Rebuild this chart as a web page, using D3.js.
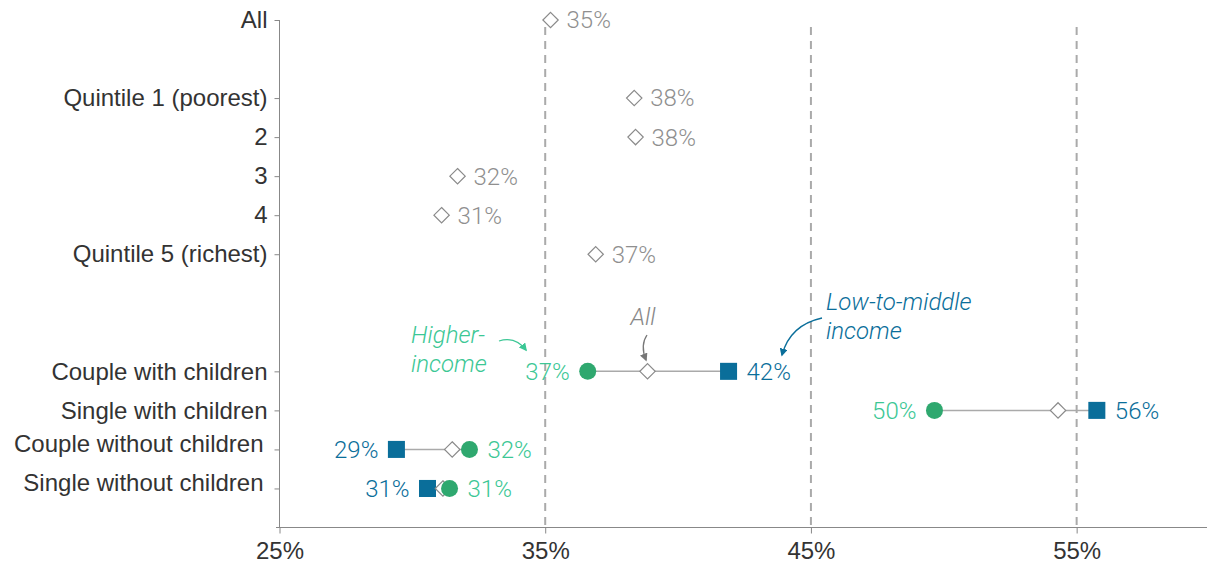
<!DOCTYPE html>
<html>
<head>
<meta charset="utf-8">
<script src="https://cdn.jsdelivr.net/npm/d3@7"></script>
<style>
  html, body { margin: 0; padding: 0; background: #fff; }
  svg { display: block; font-family: Roboto, "Noto Sans", sans-serif; font-weight: 300; }
</style>
</head>
<body>
<svg id="chart" width="1207" height="568"></svg>
<script>
// Row slots on the vertical axis; "gap" keys are empty spacer rows.
const categories = [
  "All", "gap-1",
  "Quintile 1 (poorest)", "2", "3", "4", "Quintile 5 (richest)",
  "gap-2", "gap-3",
  "Couple with children", "Single with children",
  "Couple without children", "Single without children",
  "base"
];

// Share by income quintile (diamonds only)
const quintileRows = ["All", "Quintile 1 (poorest)", "2", "3", "4", "Quintile 5 (richest)"];
const quintileValues = [0.352, 0.3835, 0.384, 0.317, 0.311, 0.369];

// Share by family type, split by income group
const familyRows = ["Couple with children", "Single with children", "Couple without children", "Single without children"];
const higherIncome = [0.366, 0.4965, 0.3215, 0.314];
const lowMiddleIncome = [0.419, 0.5576, 0.294, 0.3057];
const allIncomes = [0.3885, 0.543, 0.315, 0.3115];

const xTicks = [0.25, 0.35, 0.45, 0.55];
const refLines = [0.35, 0.45, 0.55];

const GREEN = "#2fa86f", GREEN_TEXT = "#3cc795", BLUE = "#0a6e9a";
const GREY = "#8a8a8a", GREY_TEXT = "#8f8f8f", AXIS = "#888", TEXT = "#333";
const FS = 24;

const svg = d3.select("#chart");
const x = d3.scaleLinear().domain([0.25, 0.6]).range([279.5, 1209.5]);
const y = d3.scalePoint().domain(categories).range([20, 527.5]);
const fmt = d3.format(".0%");

// Dashed reference lines
svg.append("g").selectAll("line").data(refLines).join("line")
  .attr("x1", d => x(d)).attr("x2", d => x(d))
  .attr("y1", 27).attr("y2", y("base"))
  .attr("stroke", "#aaa").attr("stroke-width", 2)
  .attr("stroke-dasharray", "8,6");

// X axis
const xAxis = svg.append("g")
  .attr("transform", `translate(0,${y("base")})`)
  .call(d3.axisBottom(x).tickValues(xTicks).tickFormat(fmt).tickSize(6).tickSizeOuter(0));
xAxis.select(".domain").attr("stroke", AXIS).attr("d", `M276,0H1207`);
xAxis.selectAll(".tick line").attr("stroke", AXIS);
xAxis.selectAll(".tick text").attr("fill", TEXT).attr("font-size", FS)
  .attr("font-family", null).attr("dy", "0.95em");

// Y axis
const labelled = categories.filter(c => !c.startsWith("gap") && c !== "base");
const yAxis = svg.append("g")
  .attr("transform", `translate(${x(0.25)},0)`)
  .call(d3.axisLeft(y).tickValues(labelled).tickSize(5).tickSizeOuter(0));
yAxis.select(".domain").attr("stroke", AXIS).attr("d", `M0,${y("All")}V${y("base")}`);
yAxis.selectAll(".tick line").attr("stroke", AXIS);
yAxis.selectAll(".tick text").attr("fill", TEXT).attr("font-size", FS).attr("x", -12)
  .attr("dy", d => d.includes("without") ? "0.1em" : "0.32em")
  .attr("dx", d => d.includes("without") ? -4 : 0);
svg.selectAll(".tick text").attr("font-family", null);

const diamond = d3.symbol().type(d3.symbolDiamond2).size(150);
const square = d3.symbol().type(d3.symbolSquare).size(290);

// Quintile diamonds
const q = svg.append("g");
q.selectAll("path").data(quintileRows).join("path")
  .attr("d", diamond)
  .attr("transform", (d, i) => `translate(${x(quintileValues[i])},${y(d)})`)
  .attr("fill", "#fff").attr("stroke", GREY).attr("stroke-width", 1.2);
q.selectAll("text").data(quintileRows).join("text")
  .attr("x", (d, i) => x(quintileValues[i]) + 16)
  .attr("y", d => y(d)).attr("dy", "0.35em")
  .attr("font-size", FS).attr("fill", GREY_TEXT)
  .text((d, i) => fmt(quintileValues[i]));

// Family-type dumbbells
const fam = familyRows.map((r, i) => ({
  row: r, hi: higherIncome[i], lo: lowMiddleIncome[i], all: allIncomes[i]
}));
const g = svg.append("g");
g.selectAll("line").data(fam).join("line")
  .attr("x1", d => x(Math.min(d.hi, d.lo))).attr("x2", d => x(Math.max(d.hi, d.lo)))
  .attr("y1", d => y(d.row)).attr("y2", d => y(d.row))
  .attr("stroke", "#aaa").attr("stroke-width", 1.5);
g.selectAll("path.sq").data(fam).join("path").attr("class", "sq")
  .attr("d", square)
  .attr("transform", d => `translate(${x(d.lo)},${y(d.row)})`)
  .attr("fill", BLUE);
g.selectAll("path.dm").data(fam).join("path").attr("class", "dm")
  .attr("d", diamond)
  .attr("transform", d => `translate(${x(d.all)},${y(d.row)})`)
  .attr("fill", "#fff").attr("stroke", GREY).attr("stroke-width", 1.2);
g.selectAll("circle").data(fam).join("circle")
  .attr("cx", d => x(d.hi)).attr("cy", d => y(d.row)).attr("r", 8.5)
  .attr("fill", GREEN);

// Value labels: the lower value sits left of its mark, the higher value right
function label(key, color) {
  const other = d => key === "hi" ? d.lo : d.hi;
  g.selectAll(`text.${key}`).data(fam).join("text").attr("class", key)
    .attr("x", d => x(d[key]) + (d[key] < other(d) ? -18 : 18))
    .attr("text-anchor", d => d[key] < other(d) ? "end" : "start")
    .attr("y", d => y(d.row)).attr("dy", "0.35em")
    .attr("font-size", FS).attr("fill", color)
    .text(d => fmt(d[key]));
}
label("hi", GREEN_TEXT);
label("lo", BLUE);

// Annotations
const defs = svg.append("defs");
[["ah-green", GREEN_TEXT], ["ah-grey", "#777"], ["ah-blue", BLUE]].forEach(([id, c]) => {
  defs.append("marker").attr("id", id).attr("viewBox", "0 0 10 10")
    .attr("refX", 8).attr("refY", 5).attr("markerWidth", 8).attr("markerHeight", 8)
    .attr("orient", "auto-start-reverse").attr("markerUnits", "userSpaceOnUse")
    .append("path").attr("d", "M0,0L10,5L0,10Z").attr("fill", c);
});
const ann = svg.append("g").attr("font-style", "italic").attr("font-size", FS);
ann.append("text").attr("x", 411).attr("y", 343).attr("fill", GREEN_TEXT).text("Higher-");
ann.append("text").attr("x", 411).attr("y", 372).attr("fill", GREEN_TEXT).text("income");
ann.append("path").attr("d", "M499,341 Q515,336 526,350")
  .attr("fill", "none").attr("stroke", GREEN_TEXT).attr("stroke-width", 1.3)
  .attr("marker-end", "url(#ah-green)");

ann.append("text").attr("x", 643).attr("y", 325).attr("text-anchor", "middle")
  .attr("fill", "#888").text("All");
ann.append("path").attr("d", "M647,335 Q640,345 646,360")
  .attr("fill", "none").attr("stroke", "#777").attr("stroke-width", 1.3)
  .attr("marker-end", "url(#ah-grey)");

ann.append("text").attr("x", 826).attr("y", 310).attr("fill", BLUE).text("Low-to-middle");
ann.append("text").attr("x", 826).attr("y", 339).attr("fill", BLUE).text("income");
ann.append("path").attr("d", "M822,318 Q790,325 782,355")
  .attr("fill", "none").attr("stroke", BLUE).attr("stroke-width", 1.3)
  .attr("marker-end", "url(#ah-blue)");
</script>
</body>
</html>
